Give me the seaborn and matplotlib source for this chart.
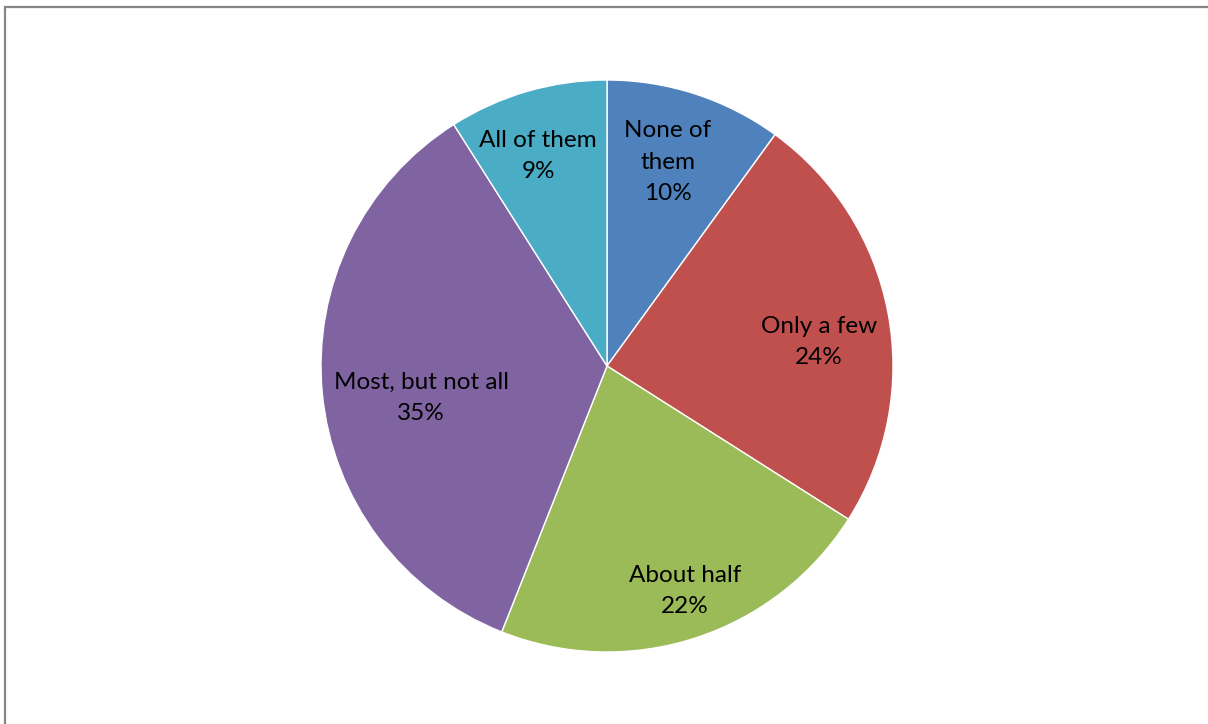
import numpy as np
import seaborn as sns
from matplotlib import pyplot as plt
from matplotlib.patches import Rectangle

# data
categories = ["None of\nthem", "Only a few", "About half", "Most, but not all", "All of them"]
shares = [10, 24, 22, 35, 9]
colors = ["#4F81BD", "#C0504D", "#9BBB59", "#8064A2", "#4BACC6"]

sns.set_theme(style="white")
plt.rcParams['font.family'] = ['Lato', 'DejaVu Sans']

fig = plt.figure(figsize=(12.08, 7.24), dpi=100)
fig.patch.set_facecolor("white")

# outer frame (only top/left visible in the picture)
fig.patches.append(Rectangle((5/1208, -0.1), 1.2, 1.1 - 7/724, transform=fig.transFigure,
                             fill=False, edgecolor="#868686", linewidth=1.6))

ax = fig.add_axes([321/1208, 72/724, 572/1208, 572/724])
labels = ["%s\n%d%%" % (c, s) for c, s in zip(categories, shares)]
wedges, texts = ax.pie(shares, labels=labels, colors=colors, startangle=90, counterclock=False,
                       labeldistance=0.75, radius=1,
                       wedgeprops={'edgecolor': 'white', 'linewidth': 1},
                       textprops={'fontsize': 17.5, 'color': 'black'})

# label placement like Excel's "best fit" (fractions of the radius)
label_pos = [(0.213, 0.713), (0.741, 0.084), (0.273, -0.787), (-0.650, -0.112), (-0.241, 0.734)]
for t, p in zip(texts, label_pos):
    t.set_position(p)
    t.set_ha("center")
    t.set_va("center")
    t.set_linespacing(1.6)

ax.set_xlim(-1, 1)
ax.set_ylim(-1, 1)
ax.axis("off")

plt.savefig("out.png", dpi=100)
